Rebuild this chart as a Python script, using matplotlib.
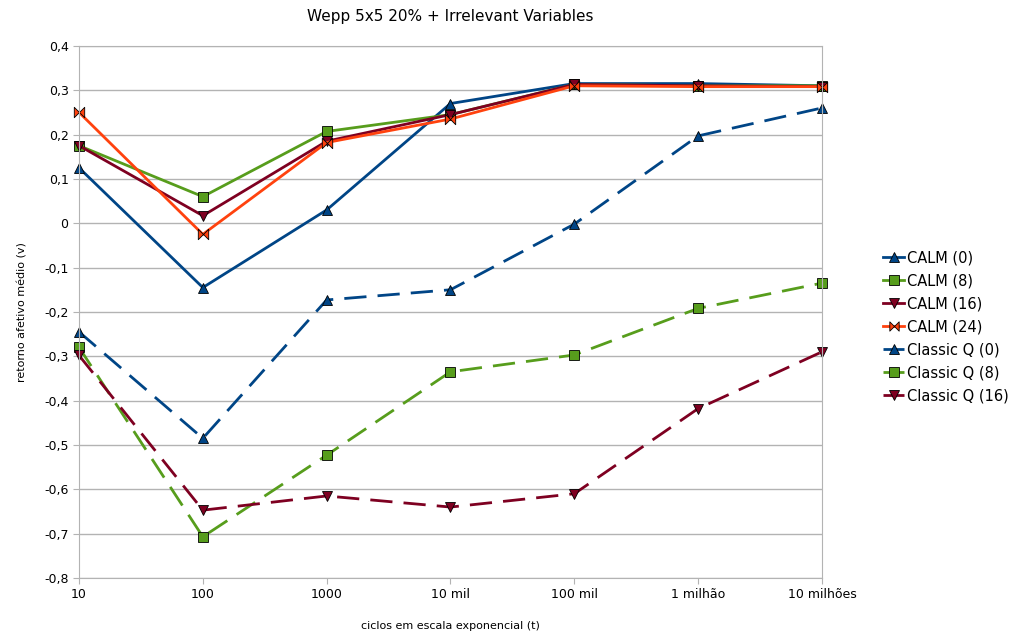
import matplotlib
matplotlib.use("Agg")
import matplotlib.pyplot as plt
import numpy as np
from matplotlib.path import Path

# data
ciclos = ["10", "100", "1000", "10 mil", "100 mil", "1 milhão", "10 milhões"]
calm_0 = [0.125, -0.145, 0.030, 0.270, 0.315, 0.315, 0.310]
calm_8 = [0.175, 0.060, 0.207, 0.245, 0.313, 0.310, 0.310]
calm_16 = [0.175, 0.017, 0.185, 0.245, 0.313, 0.310, 0.308]
calm_24 = [0.250, -0.025, 0.182, 0.235, 0.310, 0.308, 0.308]
classic_0 = [-0.245, -0.485, -0.173, -0.150, -0.002, 0.197, 0.260]
classic_8 = [-0.280, -0.707, -0.523, -0.335, -0.297, -0.192, -0.135]
classic_16 = [-0.298, -0.647, -0.615, -0.640, -0.610, -0.418, -0.290]

azul = "#004586"
verde = "#579d1c"
vinho = "#7e0021"
laranja = "#ff420e"

# bowtie marker like LibreOffice
bowtie = Path([(-1, -1), (1, 1), (1, -1), (-1, 1), (-1, -1)],
              [Path.MOVETO, Path.LINETO, Path.LINETO, Path.LINETO, Path.CLOSEPOLY])

fig = plt.figure(figsize=(10.17, 6.37), dpi=100)
ax = fig.add_axes([0.0777, 0.0926, 0.7305, 0.8354])

x = np.arange(len(ciclos))
lw = 2.0
ms = 7.5
dash = (0, (8, 4))

series = [
    ("CALM (0)", calm_0, azul, "^", "-"),
    ("CALM (8)", calm_8, verde, "s", "-"),
    ("CALM (16)", calm_16, vinho, "v", "-"),
    ("CALM (24)", calm_24, laranja, bowtie, "-"),
    ("Classic Q (0)", classic_0, azul, "^", dash),
    ("Classic Q (8)", classic_8, verde, "s", dash),
    ("Classic Q (16)", classic_16, vinho, "v", dash),
]

for nome, vals, cor, mk, ls in series:
    ax.plot(x, vals, color=cor, linewidth=lw, linestyle=ls, marker=mk,
            markersize=ms, markerfacecolor=cor, markeredgecolor="black",
            markeredgewidth=0.6, label=nome, clip_on=False)

ax.set_xlim(0, len(ciclos) - 1)
ax.set_ylim(-0.8, 0.4)
ax.set_xticks(x)
ax.set_xticklabels(ciclos, fontsize=9)
yt = np.round(np.arange(-0.8, 0.41, 0.1), 1)
ax.set_yticks(yt)
ax.set_yticklabels([("%g" % v).replace(".", ",") if abs(v) > 1e-9 else "0"
                    for v in yt], fontsize=9)
ax.grid(axis="y", color="#b3b3b3", linewidth=1)
ax.set_axisbelow(True)
for s in ax.spines.values():
    s.set_color("#b3b3b3")
ax.tick_params(colors="#b3b3b3", labelcolor="black", length=4)

ax.set_title("Wepp 5x5 20% + Irrelevant Variables", fontsize=11, pad=18)
ax.set_xlabel("ciclos em escala exponencial (t)", fontsize=8, labelpad=14)
ax.set_ylabel("retorno afetivo médio (v)", fontsize=8, labelpad=12)

ax.legend(loc="center left", bbox_to_anchor=(1.065, 0.472), frameon=False,
          fontsize=10.5, handlelength=1.4, handletextpad=0.2, labelspacing=0.55,
          markerscale=0.9)

fig.savefig("out.png", dpi=100)
